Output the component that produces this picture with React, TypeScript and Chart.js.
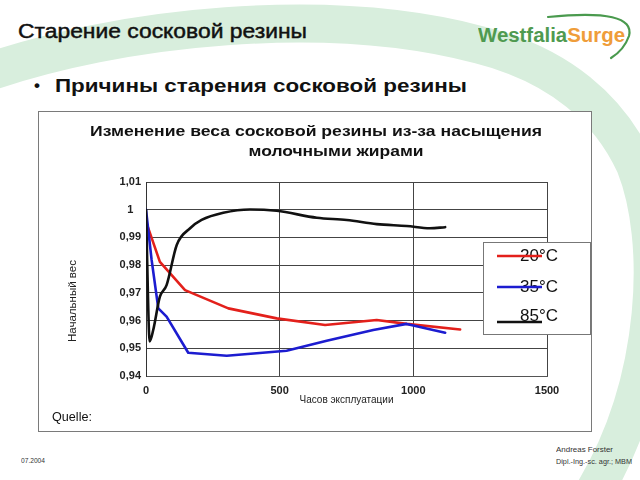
import React, { useEffect, useRef } from "react";
import { Chart, registerables } from "chart.js";

Chart.register(...registerables);

// ---------- data ----------
const seriesLabels = ["20°C", "35°C", "85°C"];
const seriesColors = ["#e3201b", "#1c1cd0", "#111111"];

const red20X = [0, 52, 146, 308, 489, 670, 863, 975, 1175];
const red20Y = [0.9957, 0.9812, 0.971, 0.9644, 0.9608, 0.9584, 0.9602, 0.9588, 0.9568];

const blue35X = [0, 21, 46, 77, 158, 302, 526, 676, 850, 975, 1119];
const blue35Y = [1.0, 0.9819, 0.9644, 0.9614, 0.9484, 0.9473, 0.9491, 0.9527, 0.9566, 0.9588, 0.9556];

const black85X = [0, 14, 27, 52, 77, 115, 165, 208, 289, 389, 489, 639, 751, 863, 975, 1062, 1119];
const black85Y = [1.0, 0.9525, 0.9566, 0.9686, 0.9728, 0.9873, 0.9933, 0.9963, 0.9989, 1.0001, 0.9996, 0.9971, 0.9963, 0.9948, 0.9941, 0.9933, 0.9937];

const xTickValues = [0, 500, 1000, 1500];
const yTickValues = [0.94, 0.95, 0.96, 0.97, 0.98, 0.99, 1.0, 1.01];

const chartTitleLines = ["Изменение веса сосковой резины из-за насыщения", "молочными жирами"];
const xAxisTitle = "Часов эксплуатации";
const yAxisTitle = "Начальный вес";

const slideTitle = "Старение сосковой резины";
const bulletText = "Причины старения сосковой резины";
const sourceText = "Quelle:";
const footerDate = "07.2004";
const footerAuthor = "Andreas Forster";
const footerDegree = "Dipl.-Ing.-sc. agr.; MBM";
const logoPart1 = "Westfalia";
const logoPart2 = "Surge";

// ---------- helpers ----------
const FAMILY = '"Liberation Sans", Arial, Helvetica, sans-serif';
const fmt = (v: number) => Number(v.toFixed(2)).toString().replace(".", ",");

let measureCtx: CanvasRenderingContext2D | null = null;
function measure(text: string, font: string) {
  if (!measureCtx) measureCtx = document.createElement("canvas").getContext("2d");
  measureCtx!.font = font;
  return measureCtx!.measureText(text).width;
}

function Txt(props: {
  text: string; x: number; cy: number; size: number; weight?: string;
  width?: number; color?: string; stroke?: string;
}) {
  const weight = props.weight || "normal";
  const font = `${weight} ${props.size}px ${FAMILY}`;
  const s = props.width ? props.width / measure(props.text, font) : 1;
  return (
    <div
      style={{
        position: "absolute",
        left: props.x,
        top: props.cy - props.size * 0.52,
        fontFamily: FAMILY,
        fontSize: props.size,
        fontWeight: weight as any,
        lineHeight: 1,
        whiteSpace: "nowrap",
        color: props.color || "#111",
        transform: `scaleX(${s})`,
        transformOrigin: "left center",
        WebkitTextStroke: props.stroke,
      }}
    >
      {props.text}
    </div>
  );
}

const pts = (xs: number[], ys: number[]) => xs.map((x, i) => ({ x, y: ys[i] }));

const decorPlugin = {
  id: "decor",
  afterDraw(chart: any) {
    const ctx: CanvasRenderingContext2D = chart.ctx;
    ctx.save();
    // chart title (two lines)
    ctx.fillStyle = "#111";
    ctx.textAlign = "center";
    ctx.textBaseline = "middle";
    ctx.font = `bold 15px ${FAMILY}`;
    const drawFit = (t: string, cx: number, cy: number, w: number) => {
      const mw = ctx.measureText(t).width;
      ctx.save();
      ctx.translate(cx, cy);
      ctx.scale(w / mw, 1);
      ctx.fillText(t, 0, 0);
      ctx.restore();
    };
    drawFit(chartTitleLines[0], 278, 21, 452);
    drawFit(chartTitleLines[1], 298, 41, 175);

    // y axis title
    ctx.save();
    ctx.translate(35.5, 190);
    ctx.rotate(-Math.PI / 2);
    ctx.font = `10px ${FAMILY}`;
    ctx.fillStyle = "#222";
    drawFit(yAxisTitle, 0, 0, 82);
    ctx.restore();

    // legend
    const lx = 445, ly = 131, lw = 107, lh = 92;
    ctx.fillStyle = "#fff";
    ctx.fillRect(lx, ly, lw, lh);
    ctx.strokeStyle = "#777";
    ctx.lineWidth = 1;
    ctx.strokeRect(lx + 0.5, ly + 0.5, lw, lh);
    const textY = [145, 176, 205];
    const lineY = [145, 176, 211];
    ctx.font = `17px ${FAMILY}`;
    ctx.textAlign = "left";
    for (let i = 0; i < seriesLabels.length; i++) {
      ctx.fillStyle = "#111";
      ctx.fillText(seriesLabels[i], 482, textY[i]);
      ctx.strokeStyle = seriesColors[i];
      ctx.lineWidth = 2.5;
      ctx.beginPath();
      ctx.moveTo(459, lineY[i]);
      ctx.lineTo(504, lineY[i]);
      ctx.stroke();
    }
    ctx.restore();
  },
};

export default function App() {
  const ref = useRef<HTMLCanvasElement>(null);

  useEffect(() => {
    const datasets = [
      { label: seriesLabels[0], data: pts(red20X, red20Y), color: seriesColors[0], tension: 0, order: 2 },
      { label: seriesLabels[1], data: pts(blue35X, blue35Y), color: seriesColors[1], tension: 0, order: 1 },
      { label: seriesLabels[2], data: pts(black85X, black85Y), color: seriesColors[2], tension: 0.4, order: 0 },
    ].map((d) => ({
      label: d.label,
      data: d.data,
      borderColor: d.color,
      backgroundColor: d.color,
      borderWidth: 2.6,
      pointRadius: 0,
      fill: false,
      order: d.order,
      tension: d.tension,
      cubicInterpolationMode: d.label === seriesLabels[2] ? "monotone" : "default",
      borderCapStyle: "round",
      borderJoinStyle: "round",
    }));

    const gridColor = "#444";
    const tickFont = { family: FAMILY, size: 11, weight: "bold" as const };

    const chart = new Chart(ref.current!, {
      type: "line",
      data: { datasets: datasets as any },
      options: {
        animation: false,
        responsive: false,
        maintainAspectRatio: false,
        layout: { padding: { top: 71, left: 0, right: 45, bottom: 0 } },
        plugins: {
          legend: { display: false },
          title: { display: false },
          tooltip: { enabled: false },
        },
        scales: {
          x: {
            type: "linear",
            min: 0,
            max: 1500,
            afterBuildTicks: (s: any) => {
              s.ticks = xTickValues.map((v) => ({ value: v }));
            },
            afterFit: (s: any) => {
              s.height = 56;
            },
            ticks: {
              font: tickFont,
              color: "#222",
              padding: 8,
              maxRotation: 0,
              autoSkip: false,
              callback: (v: any) => String(v),
            },
            grid: { color: gridColor, lineWidth: 1, drawTicks: false },
            border: { display: true, color: "#555" },
            title: {
              display: true,
              text: xAxisTitle,
              font: { family: FAMILY, size: 10 },
              color: "#222",
              padding: { top: 0, bottom: 26 },
            },
          },
          y: {
            type: "linear",
            min: 0.94,
            max: 1.01,
            afterBuildTicks: (s: any) => {
              s.ticks = yTickValues.map((v) => ({ value: v }));
            },
            afterFit: (s: any) => {
              s.width = 108;
            },
            ticks: {
              font: tickFont,
              color: "#222",
              padding: 5,
              crossAlign: "center",
              autoSkip: false,
              callback: (v: any) => fmt(Number(v)),
            },
            grid: { color: gridColor, lineWidth: 1, drawTicks: false },
            border: { display: true, color: "#333" },
          },
        },
      } as any,
      plugins: [decorPlugin],
    });
    return () => chart.destroy();
  }, []);

  return (
    <div
      style={{
        position: "fixed",
        left: 0,
        top: 0,
        width: 640,
        height: 480,
        background: "#fff",
        overflow: "hidden",
        fontFamily: FAMILY,
      }}
    >
      <svg width={640} height={480} style={{ position: "absolute", left: 0, top: 0 }}>
        <path
          d="M -20 75 C 120 25, 330 5, 480 45 C 560 65, 610 110, 635 165 C 665 240, 660 380, 595 490"
          stroke="#d8eedd"
          strokeWidth={38}
          fill="none"
        />
        <path
          d="M 548 17 Q 636 8 629 36 Q 624 50 611 58"
          stroke="#4a9a4e"
          strokeWidth={2.2}
          fill="none"
          strokeLinecap="round"
        />
      </svg>

      <Txt text={slideTitle} x={18} cy={31} size={20} width={289} stroke="0.45px #111" />

      <div
        style={{
          position: "absolute",
          left: 478,
          top: 35 - 20 * 0.52,
          fontFamily: FAMILY,
          fontSize: 20,
          fontWeight: "bold",
          lineHeight: 1,
          whiteSpace: "nowrap",
          transform: `scaleX(${147 / measure(logoPart1 + logoPart2, `bold 20px ${FAMILY}`)})`,
          transformOrigin: "left center",
        }}
      >
        <span style={{ color: "#4f9a50" }}>{logoPart1}</span>
        <span style={{ color: "#ef9d3a" }}>{logoPart2}</span>
      </div>

      <Txt text="•" x={34} cy={86} size={17} weight="bold" />
      <Txt text={bulletText} x={55} cy={86} size={19} weight="bold" width={412} />

      <div
        style={{
          position: "absolute",
          left: 38,
          top: 111,
          width: 554,
          height: 321,
          background: "#fff",
        }}
      >
        <canvas ref={ref} width={554} height={321} style={{ display: "block", width: 554, height: 321 }} />
      </div>
      <div
        style={{
          position: "absolute",
          left: 38,
          top: 111,
          width: 554,
          height: 321,
          boxSizing: "border-box",
          border: "1px solid #7a7a7a",
          pointerEvents: "none",
        }}
      />
      <Txt text={sourceText} x={52} cy={417} size={13} width={40} />

      <Txt text={footerDate} x={21} cy={461} size={7} width={24} color="#333" />
      <Txt text={footerAuthor} x={556} cy={450} size={7.5} width={57} color="#333" />
      <Txt text={footerDegree} x={556} cy={462} size={7} width={76} color="#333" />
    </div>
  );
}
